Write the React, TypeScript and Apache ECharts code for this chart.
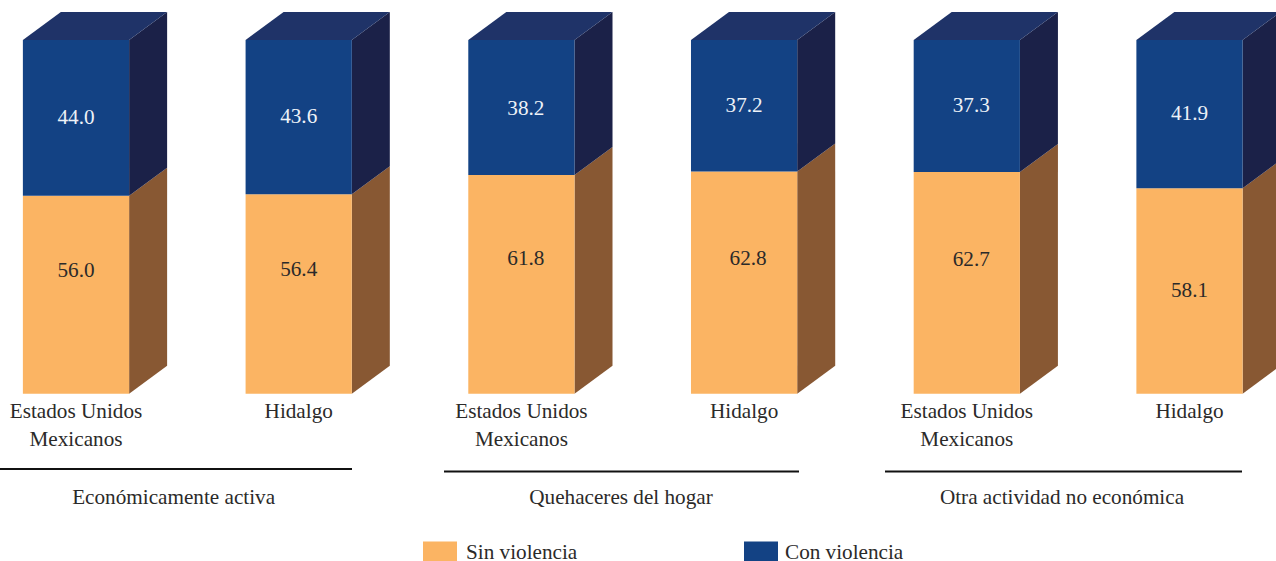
import React, { useEffect, useRef } from "react";
import * as echarts from "echarts";

const categories = [
  "Estados Unidos\nMexicanos",
  "Hidalgo",
  "Estados Unidos\nMexicanos",
  "Hidalgo",
  "Estados Unidos\nMexicanos",
  "Hidalgo",
];
const sinViolencia = [56.0, 56.4, 61.8, 62.8, 62.7, 58.1];
const conViolencia = [44.0, 43.6, 38.2, 37.2, 37.3, 41.9];
const groupTitles = ["Económicamente activa", "Quehaceres del hogar", "Otra actividad no económica"];

// Hand placement of the printed labels, in pixels from the middle of each block.
const sinLabelShiftY = [-25, -25, -26, -25, -24, -1];
const sinLabelShiftX = [0, 0, 4.5, 4, 4.5, 0];
const conLabelShiftY = [-1, -1, 0, -1, -1, -1];
const conLabelShiftX = [0, 0, 4.5, 0, 4.5, 0];

const FONT = '"Liberation Serif", "Times New Roman", serif';
const FONT_SIZE = 21.2;
const TEXT = "#2b2a29";
const ORANGE = { front: "#fbb463", side: "#885833" };
const BLUE = { front: "#134284", side: "#1b2148", top: "#1f3368" };

const DEPTH_X = 38;
const DEPTH_Y = 28;

function makeRender(colors: any, textColor: string, shiftX: number[], shiftY: number[]) {
  return (params: any, api: any) => {
    const i = api.value(0);
    const base = api.value(1);
    const top = api.value(2);
    const bandWidth = api.size([1, 0])[0];
    const half = (bandWidth * 0.477) / 2;
    const pBase = api.coord([i, base]);
    const pTop = api.coord([i, top]);
    const l = pBase[0] - half;
    const r = pBase[0] + half;
    const y0 = pBase[1];
    const y1 = pTop[1];
    const children: any[] = [
      {
        type: "polygon",
        shape: { points: [[r, y0], [r + DEPTH_X, y0 - DEPTH_Y], [r + DEPTH_X, y1 - DEPTH_Y], [r, y1]] },
        style: { fill: colors.side },
      },
      {
        type: "rect",
        shape: { x: l, y: y1, width: r - l, height: y0 - y1 },
        style: { fill: colors.front },
      },
    ];
    if (colors.top) {
      children.push({
        type: "polygon",
        shape: { points: [[l, y1], [r, y1], [r + DEPTH_X, y1 - DEPTH_Y], [l + DEPTH_X, y1 - DEPTH_Y]] },
        style: { fill: colors.top },
      });
    }
    children.push({
      type: "text",
      x: pBase[0] + shiftX[params.dataIndex],
      y: (y0 + y1) / 2 + shiftY[params.dataIndex],
      style: {
        text: (top - base).toFixed(1),
        fill: textColor,
        font: `${FONT_SIZE}px ${FONT}`,
        align: "center",
        verticalAlign: "middle",
      },
    });
    return { type: "group", children };
  };
}

export default function App() {
  const ref = useRef<HTMLDivElement>(null);
  useEffect(() => {
    document.body.style.margin = "0";
    const chart = echarts.init(ref.current!, undefined, { renderer: "svg" });
    const legendBase = {
      top: 541,
      padding: 0,
      itemWidth: 34,
      itemHeight: 20,
      icon: "rect",
      orient: "horizontal" as const,
      textStyle: { fontFamily: FONT, fontSize: FONT_SIZE, color: TEXT },
    };
    chart.setOption({
      animation: false,
      backgroundColor: "#ffffff",
      grid: { left: 76, top: 40, width: 1113.5, height: 353.7 },
      xAxis: {
        type: "category",
        boundaryGap: false,
        data: categories,
        axisLine: { show: false },
        axisTick: { show: false },
        axisLabel: {
          interval: 0,
          margin: 3,
          fontFamily: FONT,
          fontSize: FONT_SIZE,
          lineHeight: 28,
          color: TEXT,
          alignMinLabel: "center",
          alignMaxLabel: "center",
        },
      },
      yAxis: { type: "value", min: 0, max: 100, show: false, splitLine: { show: false } },
      legend: [
        { ...legendBase, left: 423, data: ["Sin violencia"], textStyle: { ...legendBase.textStyle, padding: [6, 0, 0, 4] } },
        { ...legendBase, left: 744, data: ["Con violencia"], textStyle: { ...legendBase.textStyle, padding: [6, 0, 0, 2] } },
      ],
      series: [
        {
          name: "Sin violencia",
          type: "custom",
          coordinateSystem: "cartesian2d",
          clip: false,
          itemStyle: { color: ORANGE.front },
          encode: { x: 0, y: 2 },
          data: sinViolencia.map((v, i) => [i, 0, v]),
          renderItem: makeRender(ORANGE, TEXT, sinLabelShiftX, sinLabelShiftY),
        },
        {
          name: "Con violencia",
          type: "custom",
          coordinateSystem: "cartesian2d",
          clip: false,
          itemStyle: { color: BLUE.front },
          encode: { x: 0, y: 2 },
          data: conViolencia.map((v, i) => [i, sinViolencia[i], sinViolencia[i] + v]),
          renderItem: makeRender(BLUE, "#eef2f8", conLabelShiftX, conLabelShiftY),
        },
      ],
      graphic: [
        { type: "line", shape: { x1: 0, y1: 469, x2: 352, y2: 469 }, style: { stroke: "#111111", lineWidth: 2 } },
        { type: "line", shape: { x1: 444, y1: 471.5, x2: 799, y2: 471.5 }, style: { stroke: "#111111", lineWidth: 2 } },
        { type: "line", shape: { x1: 885, y1: 471.5, x2: 1242, y2: 471.5 }, style: { stroke: "#111111", lineWidth: 2 } },
        ...groupTitles.map((t, i) => ({
          type: "text",
          x: [173.6, 621, 1062][i],
          y: 497,
          style: { text: t, fill: TEXT, font: `${FONT_SIZE}px ${FONT}`, align: "center", verticalAlign: "middle" },
        })),
      ],
    });
    return () => chart.dispose();
  }, []);
  return <div ref={ref} style={{ width: 1276, height: 561 }} />;
}
